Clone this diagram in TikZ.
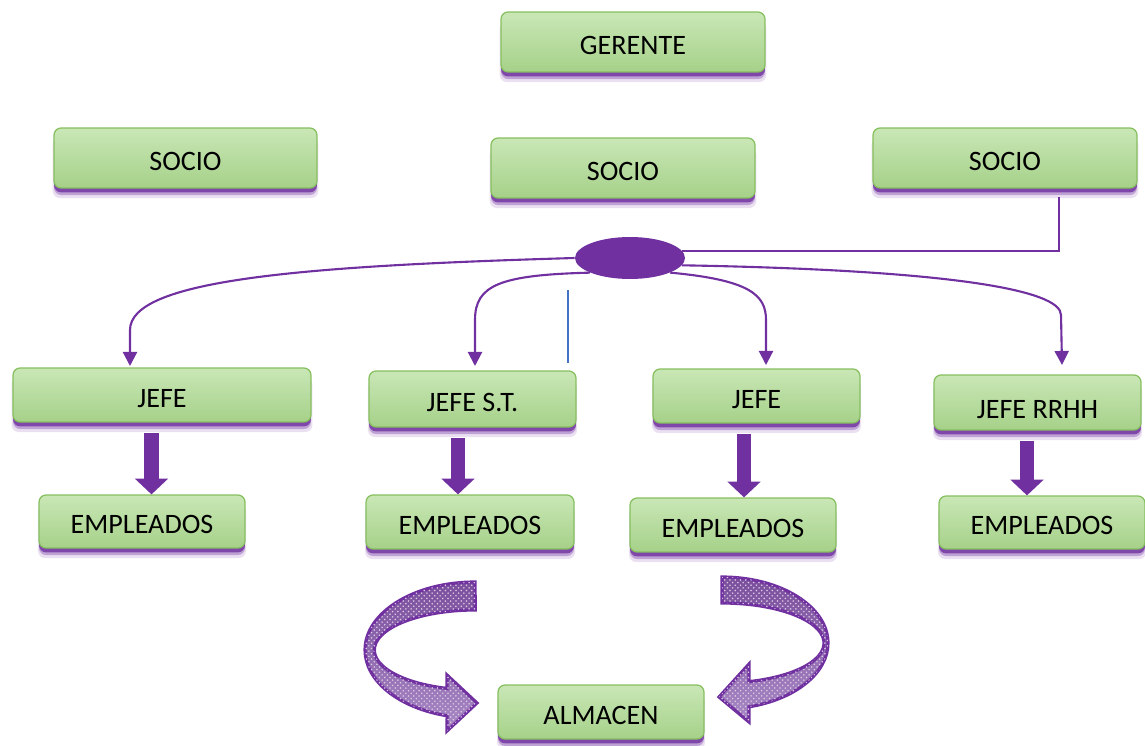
\documentclass[tikz,border=0pt]{standalone}
\usepackage{fontspec}
\setmainfont{Carlito}
\usetikzlibrary{shadows,arrows.meta,patterns,shapes.geometric}
\definecolor{boxtop}{HTML}{C9E7B6}
\definecolor{boxbot}{HTML}{A6D189}
\definecolor{boxdraw}{HTML}{86BF5E}
\definecolor{vio}{HTML}{7030A0}
\definecolor{arrtop}{HTML}{7A4E9C}
\definecolor{arrbot}{HTML}{A888C4}
\definecolor{blueline}{HTML}{4472C4}
\begin{document}
\begin{tikzpicture}[x=0.02cm,y=-0.02cm,
  box/.style={rectangle, rounded corners=4pt, draw=boxdraw, line width=0.7pt,
    top color=boxtop, bottom color=boxbot, inner sep=0pt,
    font=\fontsize{16}{19}\selectfont, text height=14pt, text depth=0pt,
    drop shadow={shadow xshift=0pt, shadow yshift=-5.5pt, shadow scale=1.01, fill=vio, opacity=0.15},
    drop shadow={shadow xshift=0pt, shadow yshift=-4pt, fill=vio, opacity=0.35},
    drop shadow={shadow xshift=0pt, shadow yshift=-2.5pt, fill=vio, opacity=0.8}},
  conn/.style={draw=vio, line width=1.2pt, -{Triangle[length=8pt,width=8pt]}},
  link/.style={draw=vio, line width=1.2pt},
  fat/.style={draw=vio, line width=8pt, -{Triangle[length=9pt,width=18.5pt]}},
  bigarrow/.style={draw=vio, line width=1.8pt, top color=arrtop, bottom color=arrbot,
    postaction={pattern=crosshatch dots, pattern color=white!75!vio}}
]
\useasboundingbox (0,0) rectangle (1145,746);

% boxes
\node[box, minimum width=5.28cm, minimum height=1.2cm] (ger) at (633,42) {GERENTE};
\node[box, minimum width=5.26cm, minimum height=1.2cm] (sl) at (185.5,158) {SOCIO};
\node[box, minimum width=5.28cm, minimum height=1.2cm] (sm) at (623,168) {SOCIO};
\node[box, minimum width=5.28cm, minimum height=1.2cm] (sr) at (1005,158) {SOCIO};

\node[box, minimum width=5.96cm, minimum height=1.08cm] (j1) at (162,395) {JEFE};
\node[box, minimum width=4.14cm, minimum height=1.12cm] (j2) at (472.5,399) {JEFE S.T.};
\node[box, minimum width=4.14cm, minimum height=1.08cm] (j3) at (756.5,396) {JEFE};
\node[box, minimum width=4.14cm, minimum height=1.10cm] (j4) at (1037.5,402.5) {\raisebox{-2pt}{JEFE RRHH}};

\node[box, minimum width=4.12cm, minimum height=1.06cm] (e1) at (142,521.5) {EMPLEADOS};
\node[box, minimum width=4.16cm, minimum height=1.08cm] (e2) at (470,522) {EMPLEADOS};
\node[box, minimum width=4.12cm, minimum height=1.08cm] (e3) at (733,525) {EMPLEADOS};
\node[box, minimum width=4.12cm, minimum height=1.06cm] (e4) at (1042,522.5) {EMPLEADOS};

\node[box, minimum width=4.12cm, minimum height=1.08cm] (alm) at (601,712) {ALMACEN};

% central ellipse
\node[ellipse, fill=vio, minimum width=2.2cm, minimum height=0.84cm, inner sep=0pt] (ell) at (630,258) {};

% link to right SOCIO
\draw[link] (ell.8) -| ([xshift=1.08cm,yshift=-5pt]sr.south);

% arrow end points
\coordinate (t1) at (130,366);
\coordinate (t2) at (475,366);
\coordinate (t3) at (766,365);
\coordinate (t4) at (1062,365);

\draw[conn] (ell.west) .. controls (300,266) and (130,280) .. (130,330) -- (t1);
\draw[conn] (ell.200) .. controls (500,275) and (475,285) .. (475,320) -- (t2);
\draw[conn] (ell.-20) .. controls (750,280) and (766,295) .. (766,320) -- (t3);
\draw[conn] (ell.-8) .. controls (950,270) and (1061,290) .. (1061,315) -- (t4);

% stray blue line
\draw[blueline, line width=1pt] (568,290) -- (568,363);

% fat arrows
\draw[fat, shorten <=6pt] (j1.south -| 151.5,0) -- (e1.north -| 151.5,0);
\draw[fat, shorten <=6pt] (j2.south -| 458,0) -- (e2.north -| 458,0);
\draw[fat, shorten <=6pt] (j3.south -| 744,0) -- (e3.north -| 744,0);
\draw[fat, shorten <=6pt] (j4.south -| 1027,0) -- (e4.north -| 1027,0);

% curved arrows toward ALMACEN
\path[bigarrow] (475,582) arc[start angle=-90, end angle=-255.3, x radius=110, y radius=68]
  -- (447,731) -- (477,703) -- (447,675) -- (447,688.4)
  arc[start angle=-253.7, end angle=-90, x radius=101, y radius=40] -- cycle;
\path[bigarrow] (722,577) arc[start angle=-90, end angle=75.24, x radius=106, y radius=66]
  -- (749,722) -- (719,697) -- (749,664) -- (749,681.6)
  arc[start angle=74.65, end angle=-90, x radius=102, y radius=40] -- cycle;
\end{tikzpicture}
\end{document}
